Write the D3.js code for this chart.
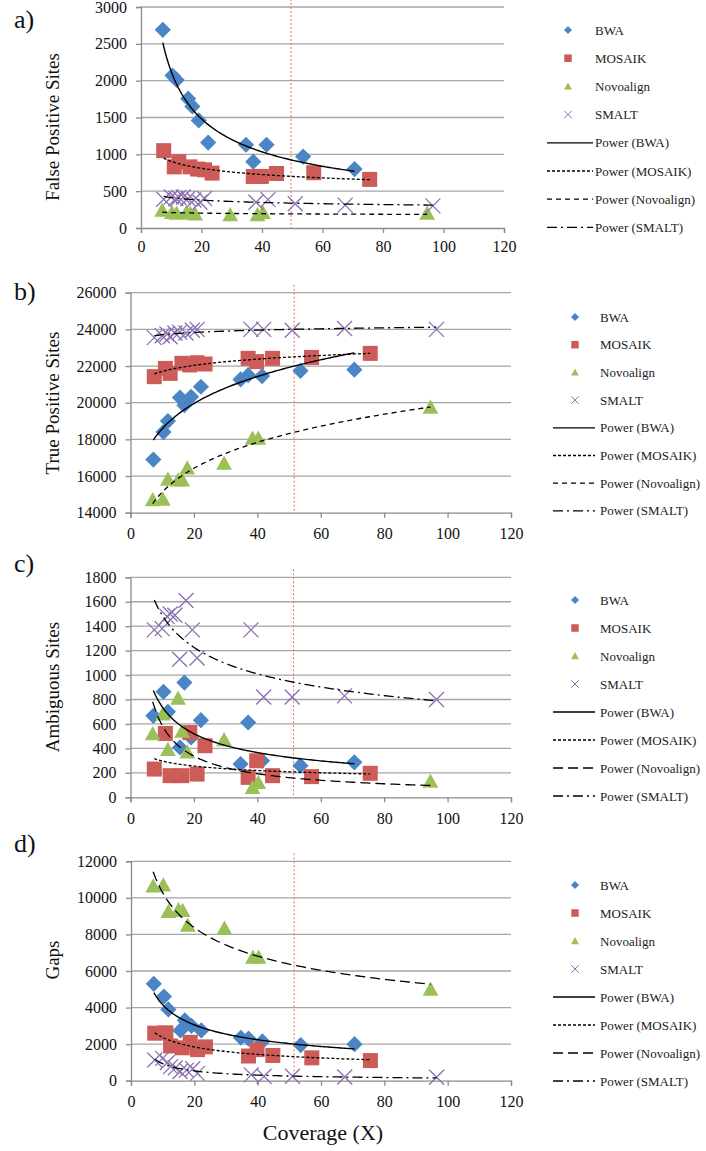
<!DOCTYPE html>
<html>
<head>
<meta charset="utf-8">
<script src="https://cdn.jsdelivr.net/npm/d3@7"></script>
<style>
  html, body { margin: 0; padding: 0; background: #fff; }
  svg { display: block; }
  svg text { font-family: "Liberation Serif", "DejaVu Serif", serif !important; }
</style>
</head>
<body>
<svg id="chart" width="706" height="1151"></svg>
<script>
// ---------------- DATA ----------------
const mappers = ["BWA", "MOSAIK", "Novoalign", "SMALT"];
const trendLabels = ["Power (BWA)", "Power (MOSAIK)", "Power (Novoalign)", "Power (SMALT)"];
const panelLetters = ["a)", "b)", "c)", "d)"];
const panelTitles = ["False Positive Sites", "True Positive Sites", "Ambiguous Sites", "Gaps"];
const xTicks = [0, 20, 40, 60, 80, 100, 120];
const xAxisTitle = "Coverage (X)";

// coverage (X) of each run, per mapper
const bwaX    = [7.2, 10.4, 11.8, 15.6, 17.0, 19.1, 22.2, 34.7, 37.1, 41.5, 53.6, 70.6];
const mosaikX = [7.5, 11.0, 12.5, 16.2, 18.7, 21.0, 23.5, 37.1, 39.8, 44.8, 57.1, 75.6];
const novoX   = [7.0, 10.2, 11.8, 15.0, 16.3, 17.9, 29.5, 38.5, 40.3, 94.6];
const smaltX  = [7.5, 10.0, 11.5, 12.5, 14.0, 15.5, 17.5, 19.5, 21.0, 38.0, 42.0, 51.0, 67.5, 96.5];

// a) False positive sites
const bwaFP    = [2690, 2070, 2010, 1755, 1650, 1460, 1160, 1130, 900, 1130, 970, 800];
const mosaikFP = [1050, 830, 900, 830, 800, 790, 745, 700, 700, 740, 750, 660];
const novoFP   = [240, 210, 200, 210, 200, 190, 180, 180, 210, 200];
const smaltFP  = [390, 420, 400, 415, 420, 400, 380, 350, 400, 350, 385, 330, 310, 300];

// b) True positive sites
const bwaTP    = [16900, 18400, 19000, 20280, 19860, 20320, 20870, 21270, 21500, 21450, 21740, 21800];
const mosaikTP = [21420, 21870, 21600, 22150, 22060, 22180, 22110, 22420, 22240, 22420, 22470, 22690];
const novoTP   = [14700, 14730, 15820, 15780, 15780, 16430, 16690, 18050, 18050, 19750];
const smaltTP  = [23550, 23650, 23750, 23600, 23800, 23850, 23800, 23950, 24000, 24000, 24000, 23950, 24050, 24000];

// c) Ambiguous sites
const bwaAmb    = [667, 863, 699, 408, 939, 490, 631, 272, 612, 299, 259, 286];
const mosaikAmb = [231, 522, 177, 177, 530, 190, 422, 163, 299, 177, 169, 196];
const novoAmb   = [520, 680, 390, 810, 540, 370, 470, 80, 120, 130];
const smaltAmb  = [1370, 1380, 1480, 1500, 1490, 1130, 1610, 1370, 1140, 1370, 820, 820, 830, 800];

// d) Gaps
const bwaGaps    = [5300, 4600, 3900, 2750, 3300, 3000, 2750, 2350, 2300, 2150, 1950, 2000];
const mosaikGaps = [2600, 2620, 1900, 1800, 2100, 1700, 1850, 1350, 1700, 1380, 1250, 1100];
const novoGaps   = [10650, 10700, 9250, 9340, 9300, 8500, 8330, 6750, 6750, 5000];
const smaltGaps  = [1130, 1220, 1000, 770, 700, 500, 580, 650, 400, 320, 240, 240, 200, 190];

// y ticks per panel
const fpTicks   = [0, 500, 1000, 1500, 2000, 2500, 3000];
const tpTicks   = [14000, 16000, 18000, 20000, 22000, 24000, 26000];
const ambTicks  = [0, 200, 400, 600, 800, 1000, 1200, 1400, 1600, 1800];
const gapTicks  = [0, 2000, 4000, 6000, 8000, 10000, 12000];

// vertical reference line (coverage) per panel
const refLineX = [49.6, 51.6, 51.4, 51.5];

// ---------------- STYLE / LAYOUT ----------------
const FONT = '"Liberation Serif", "DejaVu Serif", serif';
const colors = ["#4A86C6", "#CD5B57", "#9BBF59", "#8A70B2"];
const layout = [
  {left: 141,   right: 504, top: 7,     bottom: 228,    titleY: 127, letterY: 28,  legMarkX: 568, legTextX: 595, legLine: [547, 593], legY0: 30,  legDy: 28.2, tickLabY: 252},
  {left: 130.5, right: 511, top: 292.7, bottom: 512.7,  titleY: 403, letterY: 300, legMarkX: 575, legTextX: 600, legLine: [553, 595], legY0: 317, legDy: 27.7, tickLabY: 539},
  {left: 130.5, right: 511, top: 577.3, bottom: 797.3,  titleY: 687, letterY: 572, legMarkX: 575, legTextX: 600, legLine: [553, 595], legY0: 600, legDy: 28.0, tickLabY: 824},
  {left: 131,   right: 511, top: 861.3, bottom: 1080.7, titleY: 960, letterY: 852, legMarkX: 575, legTextX: 600, legLine: [553, 595], legY0: 885, legDy: 28.0, tickLabY: 1107}
];
const novoDash = ["5,4", "5,4", "10,5", "10,5"];
const trendDash = (panelIdx) => [null, "3,2", novoDash[panelIdx], "10,4,2,4"];

const panels = [
  {ys: [bwaFP, mosaikFP, novoFP, smaltFP],         ticks: fpTicks},
  {ys: [bwaTP, mosaikTP, novoTP, smaltTP],         ticks: tpTicks},
  {ys: [bwaAmb, mosaikAmb, novoAmb, smaltAmb],     ticks: ambTicks},
  {ys: [bwaGaps, mosaikGaps, novoGaps, smaltGaps], ticks: gapTicks}
];
const xsAll = [bwaX, mosaikX, novoX, smaltX];

// ---------------- HELPERS ----------------
function powerFit(xs, ys) {
  const n = xs.length;
  let sx = 0, sy = 0, sxx = 0, sxy = 0;
  for (let i = 0; i < n; i++) {
    const lx = Math.log(xs[i]), ly = Math.log(ys[i]);
    sx += lx; sy += ly; sxx += lx * lx; sxy += lx * ly;
  }
  const b = (n * sxy - sx * sy) / (n * sxx - sx * sx);
  const a = Math.exp((sy - b * sx) / n);
  return x => a * Math.pow(x, b);
}

function drawMarker(g, type, cx, cy, s, color) {
  const h = s / 2;
  if (type === 0) { // diamond
    const d = h * 1.08;
    g.append("path").attr("d", `M${cx},${cy - d}L${cx + d},${cy}L${cx},${cy + d}L${cx - d},${cy}Z`).attr("fill", color);
  } else if (type === 1) { // square
    g.append("rect").attr("x", cx - h).attr("y", cy - h).attr("width", s).attr("height", s).attr("fill", color);
  } else if (type === 2) { // triangle
    const th = s * 0.95;
    g.append("path").attr("d", `M${cx},${cy - th * 0.55}L${cx + h * 1.05},${cy + th * 0.45}L${cx - h * 1.05},${cy + th * 0.45}Z`).attr("fill", color);
  } else { // x
    g.append("path").attr("d", `M${cx - h},${cy - h}L${cx + h},${cy + h}M${cx - h},${cy + h}L${cx + h},${cy - h}`)
      .attr("stroke", color).attr("stroke-width", s > 10 ? 1.3 : 1).attr("fill", "none");
  }
}

// ---------------- DRAW ----------------
const svg = d3.select("#chart");

panels.forEach((p, pi) => {
  const L = layout[pi];
  const x = d3.scaleLinear().domain([0, 120]).range([L.left, L.right]);
  const y = d3.scaleLinear().domain([p.ticks[0], p.ticks[p.ticks.length - 1]]).range([L.bottom, L.top]);
  const g = svg.append("g");

  // gridlines
  g.append("g").selectAll("line").data(p.ticks.slice(1)).join("line")
    .attr("x1", L.left).attr("x2", L.right)
    .attr("y1", d => y(d)).attr("y2", d => y(d))
    .attr("stroke", "#A6A6A6").attr("stroke-width", 1.3);

  // y axis
  const yAxis = d3.axisLeft(y).tickValues(p.ticks).tickSize(5).tickPadding(9).tickFormat(d3.format("d"));
  const ya = g.append("g").attr("transform", `translate(${L.left},0)`).call(yAxis);
  ya.attr("font-family", FONT);
  ya.select(".domain").attr("stroke", "#8C8C8C").attr("stroke-width", 1.3);
  ya.selectAll(".tick line").attr("stroke", "#8C8C8C").attr("stroke-width", 1.3);
  ya.selectAll(".tick text").attr("font-size", 16).attr("fill", "#111");

  // x axis
  const xAxis = d3.axisBottom(x).tickValues(xTicks).tickSize(5).tickPadding(8).tickFormat(d3.format("d"));
  const xa = g.append("g").attr("transform", `translate(0,${L.bottom})`).call(xAxis);
  xa.attr("font-family", FONT);
  xa.select(".domain").attr("stroke", "#8C8C8C").attr("stroke-width", 1.3);
  xa.selectAll(".tick line").attr("stroke", "#8C8C8C").attr("stroke-width", 1.3);
  xa.selectAll(".tick text").attr("font-size", 16).attr("fill", "#111")
    .attr("dy", null).attr("y", L.tickLabY - L.bottom);

  // reference dashed vertical line
  g.append("line")
    .attr("x1", x(refLineX[pi])).attr("x2", x(refLineX[pi]))
    .attr("y1", L.top - 8).attr("y2", L.bottom)
    .attr("stroke", "#E8714F").attr("stroke-width", 1).attr("stroke-dasharray", "2,2");

  // markers
  const mg = g.append("g");
  xsAll.forEach((xs, si) => {
    const ys = p.ys[si];
    xs.forEach((xv, i) => {
      drawMarker(mg, si, x(xv), y(ys[i]), 15, colors[si]);
    });
  });

  // trendlines
  const dashes = trendDash(pi);
  xsAll.forEach((xs, si) => {
    const f = powerFit(xs, p.ys[si]);
    const x0 = d3.min(xs), x1 = d3.max(xs);
    const pts = d3.range(0, 101).map(k => x0 + (x1 - x0) * k / 100);
    const line = d3.line().x(d => x(d)).y(d => y(f(d)));
    g.append("path").attr("d", line(pts))
      .attr("fill", "none").attr("stroke", "#000").attr("stroke-width", si === 0 ? 1.4 : 1.3)
      .attr("stroke-dasharray", dashes[si]);
  });

  // axis title (rotated)
  svg.append("text")
    .attr("transform", `translate(59,${L.titleY}) rotate(-90)`)
    .attr("text-anchor", "middle")
    .attr("font-family", FONT)
    .attr("font-size", 19).attr("fill", "#111")
    .text(panelTitles[pi]);

  // panel letter
  svg.append("text").attr("x", 14).attr("y", L.letterY)
    .attr("font-family", FONT)
    .attr("font-size", 26).attr("fill", "#111").text(panelLetters[pi]);

  // legend
  const lg = svg.append("g").attr("font-family", FONT);
  mappers.forEach((m, si) => {
    const cy = L.legY0 + si * L.legDy;
    drawMarker(lg, si, L.legMarkX, cy, 7.5, colors[si]);
    lg.append("text").attr("x", L.legTextX).attr("y", cy).attr("dy", "0.35em")
      .attr("font-size", 13).attr("fill", "#222").text(m);
  });
  trendLabels.forEach((t, si) => {
    const cy = L.legY0 + (si + 4) * L.legDy;
    lg.append("line").attr("x1", L.legLine[0]).attr("x2", L.legLine[1]).attr("y1", cy).attr("y2", cy)
      .attr("stroke", "#000").attr("stroke-width", 1.3).attr("stroke-dasharray", dashes[si]);
    lg.append("text").attr("x", L.legTextX).attr("y", cy).attr("dy", "0.35em")
      .attr("font-size", 13).attr("fill", "#222").text(t);
  });
});

// x axis title
svg.append("text").attr("x", 323).attr("y", 1140).attr("text-anchor", "middle")
  .attr("font-family", FONT)
  .attr("font-size", 22).attr("fill", "#111").text(xAxisTitle);
</script>
</body>
</html>
